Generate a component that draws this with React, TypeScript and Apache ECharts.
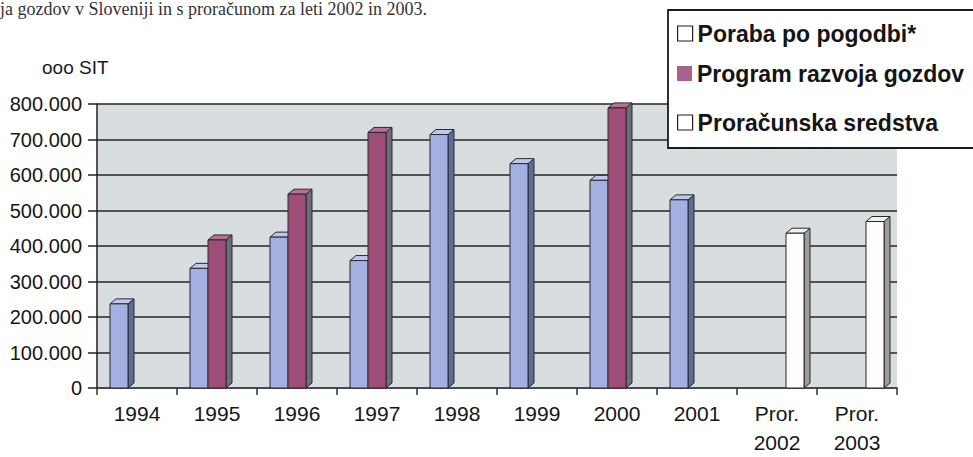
import React, { useEffect, useRef } from "react";
import * as echarts from "echarts";

const categories = ["1994", "1995", "1996", "1997", "1998", "1999", "2000", "2001", "Pror.\n2002", "Pror.\n2003"];
const seriesNames = ["Poraba po pogodbi*", "Program razvoja gozdov", "Proračunska sredstva"];
const poraba = [237000, 337000, 425000, 359000, 714000, 632000, 585000, 530000, null, null];
const program = [null, 417000, 546000, 720000, null, null, 789000, null, null, null];
const proracun = [null, null, null, null, null, null, null, null, 436000, 469000];
const yTicks = [0, 100000, 200000, 300000, 400000, 500000, 600000, 700000, 800000];
const unitLabel = "ooo SIT";
const captionText = "ja gozdov v Sloveniji in s proračunom za leti 2002 in 2003.";

const FONT = '"Liberation Sans", Arial, sans-serif';

const palettes = [
  { front: "#a5b0e2", side: "#5a6c9e", top: "#bec7ee" },
  { front: "#9c4e78", side: "#6f6c78", top: "#b76f95" },
  { front: "#fdfdfd", side: "#9c9c9c", top: "#f2f2f2" },
];

const fmt = (v: number) => {
  const s = String(Math.round(v));
  return s.replace(/\B(?=(\d{3})+(?!\d))/g, ".");
};

function makeRender(idx: number) {
  const pal = palettes[idx];
  return (params: any, api: any) => {
    const cat = api.value(0);
    const val = api.value(1);
    if (val == null || isNaN(val)) return null;
    const top = api.coord([cat, val]);
    const base = api.coord([cat, 0]);
    const catW = api.size([1, 0])[0];
    const bw = catW * 0.225;
    const x0 = top[0] - 1.5 * bw + idx * bw;
    const x1 = x0 + bw;
    const yT = top[1];
    const yB = base[1];
    const dx = 6;
    const dy = 5;
    const stroke = "#2a2a2a";
    return {
      type: "group",
      children: [
        {
          type: "polygon",
          shape: { points: [[x1, yB], [x1 + dx, yB - dy], [x1 + dx, yT - dy], [x1, yT]] },
          style: { fill: pal.side, stroke, lineWidth: 1 },
        },
        {
          type: "polygon",
          shape: { points: [[x0, yT], [x0 + dx, yT - dy], [x1 + dx, yT - dy], [x1, yT]] },
          style: { fill: pal.top, stroke, lineWidth: 1 },
        },
        {
          type: "rect",
          shape: { x: x0, y: yT, width: bw, height: yB - yT },
          style: { fill: pal.front, stroke, lineWidth: 1 },
        },
      ],
    };
  };
}

const toData = (arr: (number | null)[]) =>
  arr.map((v, i) => (v == null ? null : [i, v])).filter((d) => d !== null);

export default function App() {
  const ref = useRef<HTMLDivElement>(null);
  useEffect(() => {
    if (!ref.current) return;
    const chart = echarts.init(ref.current, null, { renderer: "svg" });
    const allSeries = [poraba, program, proracun];
    const legendTops = [22, 62, 111];
    const legendIconStyles = [
      { color: "#ffffff", borderColor: "#222", borderWidth: 1.2 },
      { color: "#a8628e", borderColor: "#a8628e", borderWidth: 0 },
      { color: "#ffffff", borderColor: "#222", borderWidth: 1.2 },
    ];
    chart.setOption({
      animation: false,
      backgroundColor: "#ffffff",
      textStyle: { fontFamily: FONT },
      grid: {
        left: 97,
        top: 104,
        width: 800,
        bottom: 63,
        show: true,
        backgroundColor: "#d8dde0",
        borderWidth: 0,
      },
      legend: seriesNames.map((name, i) => ({
        data: [{ name, icon: "rect", itemStyle: legendIconStyles[i] }],
        left: 677,
        top: legendTops[i],
        itemWidth: 15,
        itemHeight: 15,
        itemGap: 0,
        padding: 0,
        z: 30,
        selectedMode: false,
        textStyle: { fontFamily: FONT, fontSize: 23, fontWeight: "bold", color: "#141414" },
      })),
      xAxis: {
        type: "category",
        data: categories,
        axisLine: { lineStyle: { color: "#4a4a4a", width: 2 } },
        axisTick: { show: true, length: 7, lineStyle: { color: "#333", width: 1.5 } },
        axisLabel: { fontFamily: FONT, fontSize: 21, color: "#161616", margin: 11, lineHeight: 29 },
      },
      yAxis: {
        type: "value",
        min: yTicks[0],
        max: yTicks[yTicks.length - 1],
        interval: yTicks[1] - yTicks[0],
        axisLine: { show: true, lineStyle: { color: "#222", width: 1.5 } },
        axisTick: { show: true, length: 9, lineStyle: { color: "#222", width: 1.5 } },
        axisLabel: { fontFamily: FONT, fontSize: 20, color: "#161616", margin: 15, formatter: (v: number) => fmt(v) },
        splitLine: { lineStyle: { color: "#262626", width: 1.5 } },
      },
      graphic: [
        {
          type: "rect",
          z: 20,
          shape: { x: 668, y: 10, width: 320, height: 138 },
          style: { fill: "#ffffff", stroke: "#1a1a1a", lineWidth: 1.8 },
        },
        {
          type: "text",
          z: 20,
          left: 42,
          top: 58,
          style: { text: unitLabel, fontFamily: FONT, fontSize: 19, fill: "#1a1a1a" },
        },
        {
          type: "text",
          z: 20,
          left: 0,
          top: 0,
          style: { text: captionText, fontFamily: '"Liberation Serif", "Times New Roman", serif', fontSize: 18, fill: "#333" },
        },
      ],
      series: allSeries.map((arr, i) => ({
        type: "custom",
        name: seriesNames[i],
        renderItem: makeRender(i),
        encode: { x: 0, y: 1 },
        itemStyle: { color: palettes[i].front },
        data: toData(arr),
        z: 5,
      })),
    });
    return () => chart.dispose();
  }, []);
  return <div ref={ref} style={{ position: "fixed", left: 0, top: 0, width: 973, height: 457 }} />;
}
